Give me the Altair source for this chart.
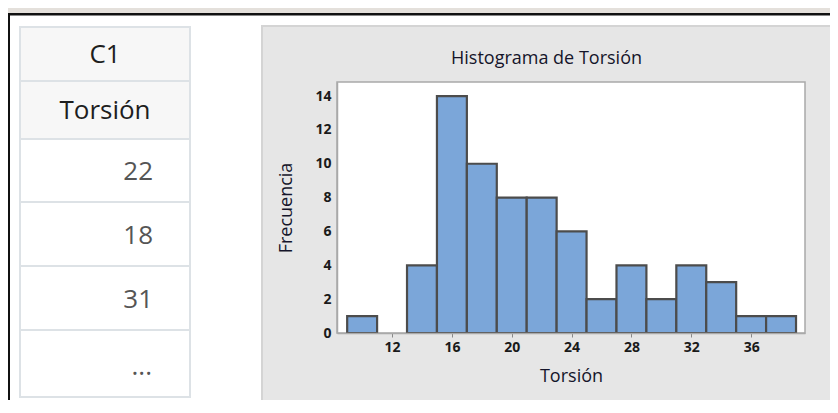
import altair as alt
import pandas as pd

# ---------------- data ----------------
bin_centers = [10, 12, 14, 16, 18, 20, 22, 24, 26, 28, 30, 32, 34, 36, 38]
counts = [1, 0, 4, 14, 10, 8, 8, 6, 2, 4, 2, 4, 3, 1, 1]
bin_width = 2
x_ticks = [12, 16, 20, 24, 28, 32, 36]
y_ticks = [0, 2, 4, 6, 8, 10, 12, 14]

table_header = ["C1", "Torsión"]
table_values = ["22", "18", "31", "..."]

chart_title = "Histograma de Torsión"
x_title = "Torsión"
y_title = "Frecuencia"

FONT = "Open Sans"

# ---------------- layout (page pixels) ----------------
OX, OY = 337, 82          # plot-area origin on the page
PW, PH = 468, 251         # plot-area size
CW, CH = 822, 392         # canvas size


def px(v):
    return v - OX


def py(v):
    return v - OY


hist = pd.DataFrame({"center": bin_centers, "count": counts})
hist["start"] = hist["center"] - bin_width / 2
hist["end"] = hist["center"] + bin_width / 2
hist = hist[hist["count"] > 0]


def rects(rows):
    return pd.DataFrame(rows, columns=["x", "x2", "y", "y2"])


def rect_layer(df, **style):
    return alt.Chart(df).mark_rect(**style).encode(
        x=alt.X("x:Q", scale=None, axis=None),
        x2="x2:Q",
        y=alt.Y("y:Q", scale=None, axis=None),
        y2="y2:Q",
    )


# frame of the screenshot
beige = rect_layer(rects([[px(8), px(830), py(8), py(13)]]), fill="#e4e0db")
black = rect_layer(
    rects([[px(8), px(830), py(13), py(15.5)], [px(8), px(10), py(13), py(420)]]),
    fill="#111111",
)

# table on the left
row_edges = [27, 81, 139, 202, 266, 330, 397]
tx0, tx1 = 20, 190
head_cells = rect_layer(
    rects([[px(tx0), px(tx1), py(row_edges[i]), py(row_edges[i + 1])] for i in range(2)]),
    fill="#f7f7f7", stroke="#dde2e6", strokeWidth=2,
)
value_cells = rect_layer(
    rects([[px(tx0), px(tx1), py(row_edges[i]), py(row_edges[i + 1])] for i in range(2, 6)]),
    fill="#ffffff", stroke="#dde2e6", strokeWidth=2,
)

head_df = pd.DataFrame({
    "label": table_header,
    "x": [px((tx0 + tx1) / 2)] * 2,
    "y": [py(55), py(111)],
})
head_text = alt.Chart(head_df).mark_text(
    font=FONT, fontSize=26, color="#1e1e1e",
    align="center", baseline="middle"
).encode(
    x=alt.X("x:Q", scale=None, axis=None),
    y=alt.Y("y:Q", scale=None, axis=None),
    text="label:N",
)

val_df = pd.DataFrame({
    "label": table_values,
    "x": [px(153), px(153), px(153), px(152)],
    "y": [py(172), py(236), py(300), py(367)],
})
val_text = alt.Chart(val_df).mark_text(
    font=FONT, fontSize=26, color="#555555", align="right", baseline="middle"
).encode(
    x=alt.X("x:Q", scale=None, axis=None),
    y=alt.Y("y:Q", scale=None, axis=None),
    text="label:N",
)

# graph panel and plot area
panel = rect_layer(
    rects([[px(262), px(832), py(26), py(405)]]),
    fill="#e6e6e6", stroke="#d4d4d4", strokeWidth=2,
)
plot_bg = rect_layer(
    rects([[0, PW, 0, PH]]),
    fill="#ffffff", stroke="#a9a9a9", strokeWidth=1.5,
)

title = alt.Chart(pd.DataFrame({"t": [chart_title]})).mark_text(
    font=FONT, fontSize=18, color="#15152a", align="center", baseline="middle"
).encode(
    x=alt.value(px(546.5)),
    y=alt.value(py(58.5)),
    text="t:N",
)

bars = alt.Chart(hist).mark_rect(
    fill="#7ba6d9", stroke="#4c4c4c", strokeWidth=2.2
).encode(
    x=alt.X(
        "start:Q",
        scale=alt.Scale(domain=[8.32, 39.6], nice=False, zero=False),
        axis=alt.Axis(
            title=x_title, values=x_ticks, grid=False, zindex=1,
            labelFont=FONT, labelFontSize=14, labelFontWeight="bold",
            labelColor="#1a1a1a",
            labelPadding=3, tickSize=4, tickColor="#888888",
            domainColor="#a9a9a9", domainWidth=1.5,
            titleFont=FONT, titleFontSize=18, titleFontWeight="normal",
            titleColor="#15152a", titlePadding=13,
        ),
    ),
    x2="end:Q",
    y=alt.Y(
        "count:Q",
        scale=alt.Scale(domain=[0, 14.83], nice=False),
        axis=alt.Axis(
            title=y_title, values=y_ticks, grid=False, zindex=1,
            labelFont=FONT, labelFontSize=14, labelFontWeight="bold",
            labelColor="#1a1a1a",
            labelPadding=6, ticks=False, domainColor="#a9a9a9", domainWidth=1.5,
            titleFont=FONT, titleFontSize=18, titleFontWeight="normal",
            titleColor="#15152a", titlePadding=19,
        ),
    ),
    y2=alt.datum(0),
)

chart = alt.layer(
    beige, black, head_cells, value_cells, head_text, val_text,
    panel, plot_bg, title, bars,
).properties(
    width=PW,
    height=PH,
    autosize=alt.AutoSizeParams(type="none"),
    padding={"left": OX - 8, "top": OY - 8, "right": CW - (OX - 8) - PW,
             "bottom": CH - (OY - 8) - PH},
    background="#ffffff",
).configure_view(stroke=None)

chart.save("out.html", embed_options={"renderer": "svg", "actions": False})
